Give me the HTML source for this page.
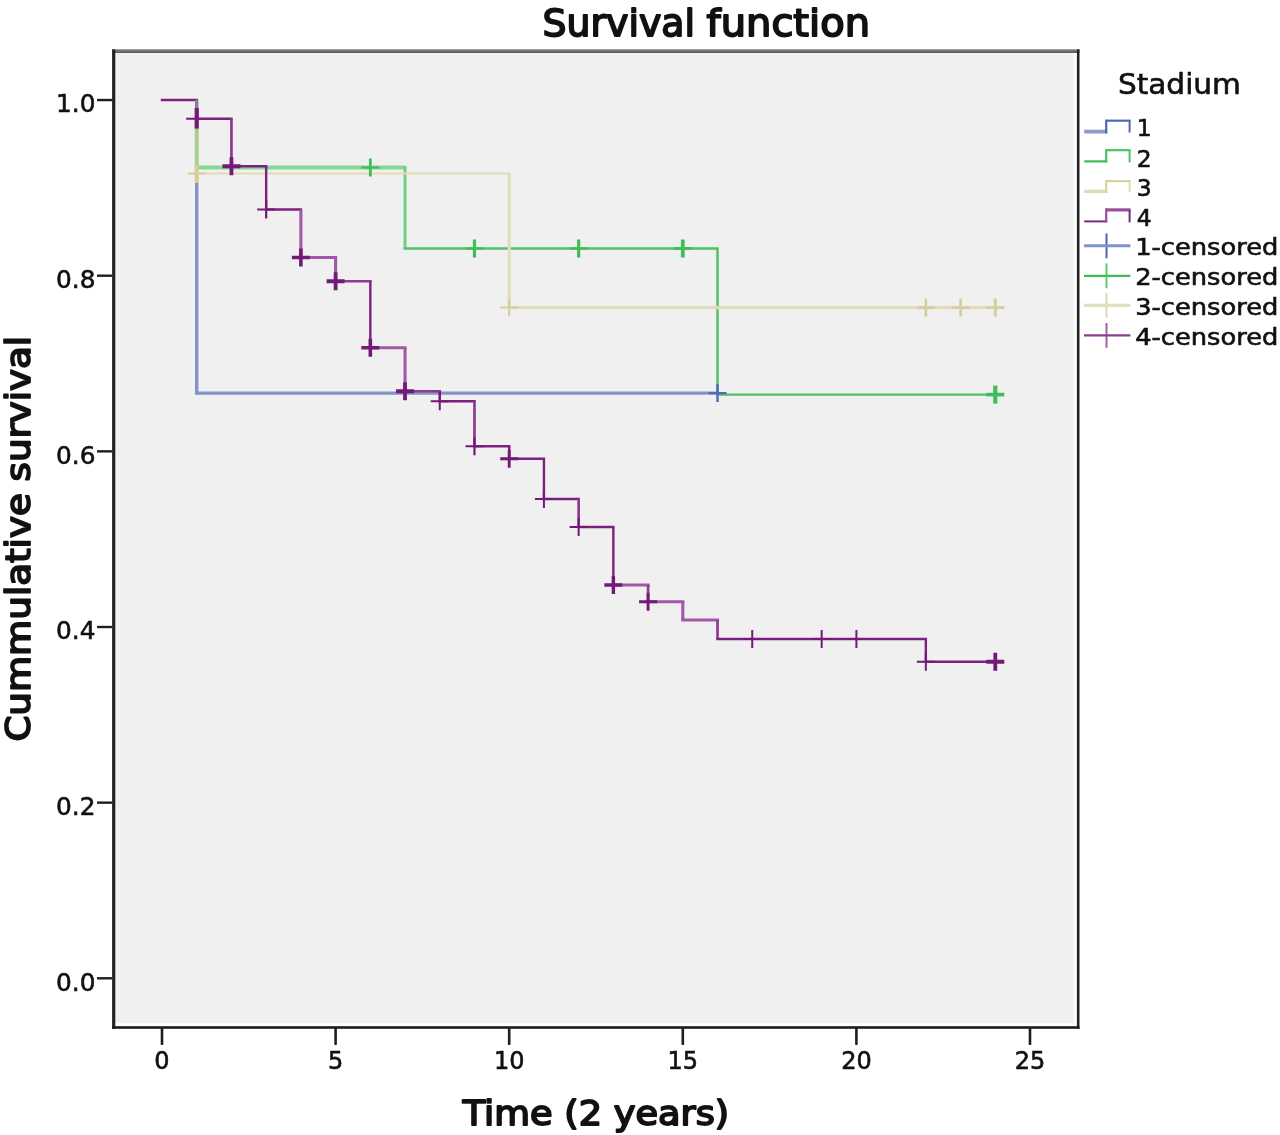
<!DOCTYPE html>
<html lang="en"><head><meta charset="utf-8"><title>Survival function</title>
<style>html,body{margin:0;padding:0;background:#fff;}svg{display:block;filter:blur(0.55px);}text{font-family:'DejaVu Sans','Liberation Sans',sans-serif;fill:#111111;}.b{stroke:#111111;stroke-width:1.8px;stroke-linejoin:round;}.t{stroke:#111111;stroke-width:0.6px;}</style></head><body>
<svg width="1280" height="1135" viewBox="0 0 1280 1135">
<rect x="0" y="0" width="1280" height="1135" fill="#ffffff"/>
<rect x="113" y="51" width="960.9" height="972.2" fill="#f0f0f0"/>
<path d="M196.72,183.0 L196.72,394.8" fill="none" stroke="#8394c8" stroke-width="3.4" />
<path d="M196.72,393.1 L717.52,393.1" fill="none" stroke="#8394c8" stroke-width="3.4" />
<path d="M196.72,127.0 L196.72,167.5" fill="none" stroke="#a8cf8e" stroke-width="4" />
<path d="M196.72,167.5 L405.04,167.5" fill="none" stroke="#86d694" stroke-width="4" />
<path d="M405.04,166.0 L405.04,248.5" fill="none" stroke="#6fcf80" stroke-width="3" />
<path d="M403.54,248.5 L682.8,248.5" fill="none" stroke="#52c467" stroke-width="2.4" />
<path d="M682.8,248.5 L717.52,248.5 L717.52,394.6 L995.28,394.6" fill="none" stroke="#4cc062" stroke-width="2.4" />
<path d="M196.72,165.5 L196.72,183.0" fill="none" stroke="#d5d38c" stroke-width="4" />
<path d="M196.72,173.5 L509.2,173.5" fill="none" stroke="#dfdcb6" stroke-width="2.2" />
<path d="M509.2,172.4 L509.2,307.6" fill="none" stroke="#e0ddbc" stroke-width="3.2" />
<path d="M509.2,307.6 L1004.28,307.6" fill="none" stroke="#e0ddb8" stroke-width="3.2" />
<path d="M162.0,100.0 H196.72" fill="none" stroke="#7d2080" stroke-width="2.4" stroke-linecap="square"/>
<path d="M196.72,100.0 V118.75" fill="none" stroke="#8d7a96" stroke-width="3.4"/>
<path d="M196.72,118.75 H231.44" fill="none" stroke="#7d2080" stroke-width="2.4" stroke-linecap="square"/>
<path d="M231.44,118.75 V166.25" fill="none" stroke="#8e3a92" stroke-width="2.7"/>
<path d="M231.44,166.25 H266.16" fill="none" stroke="#7d2080" stroke-width="2.4" stroke-linecap="square"/>
<path d="M266.16,166.25 V209.5" fill="none" stroke="#7d2080" stroke-width="2.4"/>
<path d="M266.16,209.5 H300.88" fill="none" stroke="#7d2080" stroke-width="2.4" stroke-linecap="square"/>
<path d="M300.88,209.5 V257.5" fill="none" stroke="#a258a6" stroke-width="3.1"/>
<path d="M300.88,257.5 H335.6" fill="none" stroke="#a258a6" stroke-width="3.1" stroke-linecap="square"/>
<path d="M335.6,257.5 V281.25" fill="none" stroke="#a258a6" stroke-width="3.1"/>
<path d="M335.6,281.25 H370.32" fill="none" stroke="#8e3a92" stroke-width="2.7" stroke-linecap="square"/>
<path d="M370.32,281.25 V347.75" fill="none" stroke="#7d2080" stroke-width="2.4"/>
<path d="M370.32,347.75 H405.04" fill="none" stroke="#a258a6" stroke-width="3.1" stroke-linecap="square"/>
<path d="M405.04,347.75 V391.25" fill="none" stroke="#a258a6" stroke-width="3.1"/>
<path d="M405.04,391.25 H439.76" fill="none" stroke="#8e3a92" stroke-width="2.7" stroke-linecap="square"/>
<path d="M439.76,391.25 V401.25" fill="none" stroke="#7d2080" stroke-width="2.4"/>
<path d="M439.76,401.25 H474.48" fill="none" stroke="#7d2080" stroke-width="2.4" stroke-linecap="square"/>
<path d="M474.48,401.25 V446.25" fill="none" stroke="#8e3a92" stroke-width="2.7"/>
<path d="M474.48,446.25 H509.2" fill="none" stroke="#7d2080" stroke-width="2.4" stroke-linecap="square"/>
<path d="M509.2,446.25 V458.75" fill="none" stroke="#7d2080" stroke-width="2.4"/>
<path d="M509.2,458.75 H543.92" fill="none" stroke="#7d2080" stroke-width="2.4" stroke-linecap="square"/>
<path d="M543.92,458.75 V499.0" fill="none" stroke="#7d2080" stroke-width="2.4"/>
<path d="M543.92,499.0 H578.64" fill="none" stroke="#7d2080" stroke-width="2.4" stroke-linecap="square"/>
<path d="M578.64,499.0 V527.0" fill="none" stroke="#8e3a92" stroke-width="2.7"/>
<path d="M578.64,527.0 H613.36" fill="none" stroke="#7d2080" stroke-width="2.4" stroke-linecap="square"/>
<path d="M613.36,527.0 V585.0" fill="none" stroke="#7d2080" stroke-width="2.4"/>
<path d="M613.36,585.0 H648.08" fill="none" stroke="#a258a6" stroke-width="3.1" stroke-linecap="square"/>
<path d="M648.08,585.0 V601.75" fill="none" stroke="#8e3a92" stroke-width="2.7"/>
<path d="M648.08,601.75 H682.8" fill="none" stroke="#a258a6" stroke-width="3.1" stroke-linecap="square"/>
<path d="M682.8,601.75 V620.0" fill="none" stroke="#a258a6" stroke-width="3.1"/>
<path d="M682.8,620.0 H717.52" fill="none" stroke="#a258a6" stroke-width="3.1" stroke-linecap="square"/>
<path d="M717.52,620.0 V639.0" fill="none" stroke="#8e3a92" stroke-width="2.7"/>
<path d="M717.52,639.0 H925.84" fill="none" stroke="#7d2080" stroke-width="2.4" stroke-linecap="square"/>
<path d="M925.84,639.0 V661.75" fill="none" stroke="#7d2080" stroke-width="2.4"/>
<path d="M925.84,661.75 H995.28" fill="none" stroke="#7d2080" stroke-width="2.4" stroke-linecap="square"/>
<path d="M708.52,393.1 H726.52 M717.52,384.1 V402.1" fill="none" stroke="#5169b8" stroke-width="2.4"/>
<path d="M361.32,167.5 H379.32" fill="none" stroke="#40bd58" stroke-width="2.2"/>
<path d="M370.32,158.5 V176.5" fill="none" stroke="#40bd58" stroke-width="2.8"/>
<path d="M465.48,248.5 H483.48" fill="none" stroke="#40bd58" stroke-width="2.4"/>
<path d="M474.48,239.5 V257.5" fill="none" stroke="#40bd58" stroke-width="3.2"/>
<path d="M569.64,248.5 H587.64" fill="none" stroke="#40bd58" stroke-width="2.4"/>
<path d="M578.64,239.5 V257.5" fill="none" stroke="#40bd58" stroke-width="3.2"/>
<path d="M673.8,248.5 H691.8" fill="none" stroke="#40bd58" stroke-width="2.8"/>
<path d="M682.8,239.5 V257.5" fill="none" stroke="#40bd58" stroke-width="3.8"/>
<path d="M986.28,394.6 H1004.28" fill="none" stroke="#40bd58" stroke-width="3.6"/>
<path d="M995.28,385.6 V403.6" fill="none" stroke="#40bd58" stroke-width="4.2"/>
<path d="M187.72,173.5 H205.72 M196.72,164.5 V182.5" fill="none" stroke="#d3cf9a" stroke-width="2"/>
<path d="M500.2,307.6 H518.2 M509.2,298.6 V316.6" fill="none" stroke="#d3cf9a" stroke-width="2"/>
<path d="M916.84,307.6 H934.84" fill="none" stroke="#d3cf9a" stroke-width="2.4"/>
<path d="M925.84,298.6 V316.6" fill="none" stroke="#d3cf9a" stroke-width="2.6"/>
<path d="M951.56,307.6 H969.56" fill="none" stroke="#d3cf9a" stroke-width="2.4"/>
<path d="M960.56,298.6 V316.6" fill="none" stroke="#d3cf9a" stroke-width="2.6"/>
<path d="M986.28,307.6 H1004.28" fill="none" stroke="#d3cf9a" stroke-width="2.4"/>
<path d="M995.28,298.6 V316.6" fill="none" stroke="#d3cf9a" stroke-width="3.0"/>
<path d="M186.22,118.75 H196.72" fill="none" stroke="#731a79" stroke-width="2"/>
<path d="M196.72,108 V128.6" fill="none" stroke="#731a79" stroke-width="4.2"/>
<path d="M222.44,166.25 H240.44 M231.44,157.25 V175.25" fill="none" stroke="#731a79" stroke-width="3.8"/>
<path d="M257.16,209.5 H275.16 M266.16,200.5 V218.5" fill="none" stroke="#731a79" stroke-width="2.2"/>
<path d="M291.88,257.5 H309.88 M300.88,248.5 V266.5" fill="none" stroke="#731a79" stroke-width="3.6"/>
<path d="M326.6,281.25 H344.6 M335.6,272.25 V290.25" fill="none" stroke="#731a79" stroke-width="3.8"/>
<path d="M361.32,347.75 H379.32 M370.32,338.75 V356.75" fill="none" stroke="#731a79" stroke-width="3.6"/>
<path d="M396.04,391.25 H414.04 M405.04,382.25 V400.25" fill="none" stroke="#731a79" stroke-width="3.8"/>
<path d="M430.76,401.25 H448.76 M439.76,392.25 V410.25" fill="none" stroke="#731a79" stroke-width="2.0"/>
<path d="M465.48,446.25 H483.48 M474.48,437.25 V455.25" fill="none" stroke="#731a79" stroke-width="2.2"/>
<path d="M500.2,458.75 H518.2 M509.2,449.75 V467.75" fill="none" stroke="#731a79" stroke-width="2.9"/>
<path d="M534.92,499.0 H552.92 M543.92,490.0 V508.0" fill="none" stroke="#731a79" stroke-width="2.0"/>
<path d="M569.64,527.0 H587.64 M578.64,518.0 V536.0" fill="none" stroke="#731a79" stroke-width="2.0"/>
<path d="M604.36,585.0 H622.36 M613.36,576.0 V594.0" fill="none" stroke="#731a79" stroke-width="3.4"/>
<path d="M639.08,601.75 H657.08 M648.08,592.75 V610.75" fill="none" stroke="#731a79" stroke-width="2.9"/>
<path d="M743.24,639.0 H761.24 M752.24,630.0 V648.0" fill="none" stroke="#731a79" stroke-width="2.0"/>
<path d="M812.68,639.0 H830.68 M821.68,630.0 V648.0" fill="none" stroke="#731a79" stroke-width="2.0"/>
<path d="M847.4,639.0 H865.4 M856.4,630.0 V648.0" fill="none" stroke="#731a79" stroke-width="2.0"/>
<path d="M916.84,661.75 H934.84 M925.84,652.75 V670.75" fill="none" stroke="#731a79" stroke-width="2.0"/>
<path d="M986.28,661.75 H1004.28 M995.28,652.75 V670.75" fill="none" stroke="#731a79" stroke-width="3.8"/>
<defs><linearGradient id="tg" x1="0" y1="0" x2="0" y2="1"><stop offset="0" stop-color="#8a8a8a"/><stop offset="1" stop-color="#565656"/></linearGradient></defs>
<rect x="112.1" y="49.2" width="967.4" height="3.8" fill="url(#tg)"/>
<rect x="1076.9" y="49.4" width="2.6" height="979.4" fill="#222222"/>
<rect x="112.1" y="49.4" width="3.2" height="979.4" fill="#222222"/>
<rect x="112.1" y="1026.2" width="967.4" height="2.6" fill="#1c1c1c"/>
<rect x="160.7" y="1028" width="2.6" height="17" rx="0.8" fill="#1e1e1e"/>
<rect x="334.3" y="1028" width="2.6" height="17" rx="0.8" fill="#1e1e1e"/>
<rect x="507.9" y="1028" width="2.6" height="17" rx="0.8" fill="#1e1e1e"/>
<rect x="681.5" y="1028" width="2.6" height="17" rx="0.8" fill="#1e1e1e"/>
<rect x="855.1" y="1028" width="2.6" height="17" rx="0.8" fill="#1e1e1e"/>
<rect x="1028.7" y="1028" width="2.6" height="17" rx="0.8" fill="#1e1e1e"/>
<rect x="97" y="977.1" width="15.5" height="2.4" fill="#1e1e1e"/>
<rect x="97" y="801.45" width="15.5" height="2.4" fill="#1e1e1e"/>
<rect x="97" y="625.8" width="15.5" height="2.4" fill="#1e1e1e"/>
<rect x="97" y="450.15" width="15.5" height="2.4" fill="#1e1e1e"/>
<rect x="97" y="274.5" width="15.5" height="2.4" fill="#1e1e1e"/>
<rect x="97" y="98.85" width="15.5" height="2.4" fill="#1e1e1e"/>
<text class="t" x="162.0" y="1068.7" font-size="24" text-anchor="middle">0</text>
<text class="t" x="335.6" y="1068.7" font-size="24" text-anchor="middle">5</text>
<text class="t" x="509.2" y="1068.7" font-size="24" text-anchor="middle">10</text>
<text class="t" x="682.8" y="1068.7" font-size="24" text-anchor="middle">15</text>
<text class="t" x="856.4" y="1068.7" font-size="24" text-anchor="middle">20</text>
<text class="t" x="1030.0" y="1068.7" font-size="24" text-anchor="middle">25</text>
<text class="t" x="95.5" y="990.7" font-size="25.6" text-anchor="end" textLength="39.4" lengthAdjust="spacingAndGlyphs">0.0</text>
<text class="t" x="95.5" y="815.05" font-size="25.6" text-anchor="end" textLength="39.4" lengthAdjust="spacingAndGlyphs">0.2</text>
<text class="t" x="95.5" y="639.4" font-size="25.6" text-anchor="end" textLength="39.4" lengthAdjust="spacingAndGlyphs">0.4</text>
<text class="t" x="95.5" y="463.75" font-size="25.6" text-anchor="end" textLength="39.4" lengthAdjust="spacingAndGlyphs">0.6</text>
<text class="t" x="95.5" y="288.1" font-size="25.6" text-anchor="end" textLength="39.4" lengthAdjust="spacingAndGlyphs">0.8</text>
<text class="t" x="95.5" y="112.45" font-size="25.6" text-anchor="end" textLength="39.4" lengthAdjust="spacingAndGlyphs">1.0</text>
<text class="b" y="36.4" font-size="37.5"><tspan x="542.6" textLength="152.4" lengthAdjust="spacingAndGlyphs">Survival</tspan><tspan> </tspan><tspan x="706.6" textLength="163.4" lengthAdjust="spacingAndGlyphs">function</tspan></text>
<text class="b" x="462.7" y="1125.3" font-size="33.5" textLength="266.5" lengthAdjust="spacingAndGlyphs">Time (2 years)</text>
<text class="b" transform="translate(29.6,741.6) rotate(-90)" font-size="33.5" textLength="405.8" lengthAdjust="spacingAndGlyphs">Cummulative survival</text>
<text class="t" x="1117.9" y="94.2" font-size="28.6" textLength="123" lengthAdjust="spacingAndGlyphs">Stadium</text>
<path d="M1084.2,131.6 H1107.2" fill="none" stroke="#8c9dcc" stroke-width="3.8"/>
<path d="M1106.2,133.5 V119.60000000000001" fill="none" stroke="#5068b6" stroke-width="2.2"/>
<path d="M1106.2,120.7 H1130.6" fill="none" stroke="#5068b6" stroke-width="2.2"/>
<path d="M1129.6,120.7 V132.6" fill="none" stroke="#5068b6" stroke-width="2"/>
<text class="t" x="1136.8" y="136.3" font-size="23.4">1</text>
<path d="M1084.2,161.4 H1107.2" fill="none" stroke="#3fbc56" stroke-width="2.2"/>
<path d="M1106.2,162.5 V149.1" fill="none" stroke="#4cc262" stroke-width="2.2"/>
<path d="M1106.2,150.2 H1130.6" fill="none" stroke="#4cc262" stroke-width="2.2"/>
<path d="M1129.6,150.2 V162.4" fill="none" stroke="#4cc262" stroke-width="2"/>
<text class="t" x="1136.8" y="167.2" font-size="23.4">2</text>
<path d="M1084.2,191.4 H1107.2" fill="none" stroke="#dfdcb6" stroke-width="3.4"/>
<path d="M1106.2,193.1 V180.0" fill="none" stroke="#d6d2a0" stroke-width="2.2"/>
<path d="M1106.2,181.1 H1130.6" fill="none" stroke="#d6d2a0" stroke-width="2.2"/>
<path d="M1129.6,181.1 V192.4" fill="none" stroke="#dfdcb6" stroke-width="2"/>
<text class="t" x="1136.8" y="196.1" font-size="23.4">3</text>
<path d="M1084.2,221.4 H1107.2" fill="none" stroke="#7c287d" stroke-width="2.0"/>
<path d="M1106.2,222.4 V208.3" fill="none" stroke="#9a4c9d" stroke-width="2.2"/>
<path d="M1106.2,209.9 H1130.6" fill="none" stroke="#9a4c9d" stroke-width="3.2"/>
<path d="M1129.6,209.9 V222.4" fill="none" stroke="#7c287d" stroke-width="2"/>
<text class="t" x="1136.8" y="226.0" font-size="23.4">4</text>
<path d="M1106.5,233.39999999999998 V258.2" fill="none" stroke="#4a62b2" stroke-width="2"/>
<path d="M1084,245.79999999999998 H1130.4" fill="none" stroke="#7f93cf" stroke-width="3.0"/>
<text class="t" x="1135.2" y="255.2" font-size="23.4" textLength="143.2" lengthAdjust="spacingAndGlyphs">1-censored</text>
<path d="M1106.5,263.40000000000003 V288.2" fill="none" stroke="#5fc872" stroke-width="2"/>
<path d="M1084,275.8 H1130.4" fill="none" stroke="#3fbc56" stroke-width="2.2"/>
<text class="t" x="1135.2" y="285.2" font-size="23.4" textLength="143.2" lengthAdjust="spacingAndGlyphs">2-censored</text>
<path d="M1106.5,293.00000000000006 V317.8" fill="none" stroke="#dcd8ac" stroke-width="2"/>
<path d="M1084,305.40000000000003 H1130.4" fill="none" stroke="#e2dfbe" stroke-width="3.3"/>
<text class="t" x="1135.2" y="314.8" font-size="23.4" textLength="143.2" lengthAdjust="spacingAndGlyphs">3-censored</text>
<path d="M1106.5,323.00000000000006 V347.8" fill="none" stroke="#a160a6" stroke-width="2"/>
<path d="M1084,335.40000000000003 H1130.4" fill="none" stroke="#8b3d8e" stroke-width="2.4"/>
<text class="t" x="1135.2" y="344.8" font-size="23.4" textLength="143.2" lengthAdjust="spacingAndGlyphs">4-censored</text>
</svg>
</body></html>
